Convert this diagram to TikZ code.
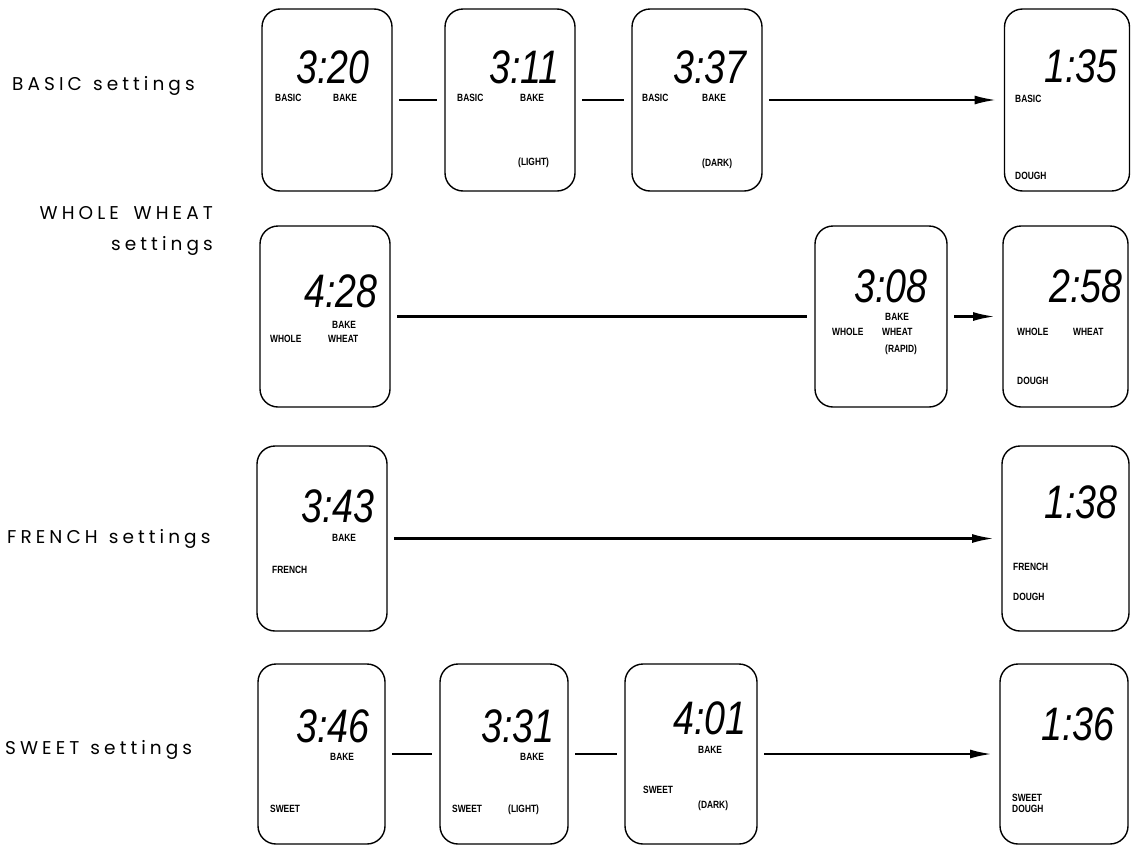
\documentclass[tikz,border=0pt]{standalone}
\usepackage{fontspec}
\usetikzlibrary{arrows.meta}
\newfontfamily\labfont[LetterSpace=22]{Poppins}
\newfontfamily\lcdfont[FakeStretch=0.8]{Liberation Sans}
\newfontfamily\digfont[FakeStretch=0.8]{Liberation Sans}
\tikzset{
  lcd/.style={draw, line width=1.4pt, rounded corners=18pt, inner sep=0pt, outer sep=0pt},
  seg/.style={font=\digfont\itshape\fontsize{47}{47}\selectfont, inner sep=0pt, text depth=0pt, anchor=base east},
  tag/.style={font=\lcdfont\bfseries\fontsize{10.5}{11}\selectfont, inner sep=0pt, text height=7.5pt, text depth=0pt, anchor=base west},
  side/.style={font=\labfont\fontsize{18.5}{21}\selectfont, inner sep=0pt},
  link/.style={line width=2.4pt, shorten <=7pt, shorten >=8pt},
  go/.style={link, -{Latex[length=22pt,width=9pt]}}
}
\begin{document}
\begin{tikzpicture}[x=1pt,y=-1pt]
\useasboundingbox (0,0) rectangle (1131,846);
% side labels
\node[side, anchor=base west] (l1) at (12,90) {BASIC\hspace{0.6em}settings};
\node[side, anchor=base east] (l2a) at (213,219) {WHOLE\hspace{0.8em}WHEAT};
\node[side, anchor=base east] (l2b) at (213,250) {settings};
\node[side, anchor=base west] (l3) at (7,543) {FRENCH\hspace{0.6em}settings};
\node[side, anchor=base west] (l4) at (5,754) {SWEET\hspace{0.6em}settings};
% row 1
\node[lcd, minimum width=130pt, minimum height=182pt] (b11) at (327,100) {};
\node[lcd, minimum width=130pt, minimum height=182pt] (b12) at (510,100) {};
\node[lcd, minimum width=130pt, minimum height=182pt] (b13) at (697,100) {};
\node[lcd, minimum width=125pt, minimum height=182pt] (b14) at (1067,100) {};
\node[seg] (d11) at (370,83) {3:20};
\node[tag] (t11a) at (275,101) {BASIC};
\node[tag] (t11b) at (333,101) {BAKE};
\node[seg] (d12) at (560,83) {3:11};
\node[tag] (t12a) at (457,101) {BASIC};
\node[tag] (t12b) at (520,101) {BAKE};
\node[tag] (t12c) at (518,165) {(LIGHT)};
\node[seg] (d13) at (747,83) {3:37};
\node[tag] (t13a) at (642,101) {BASIC};
\node[tag] (t13b) at (702,101) {BAKE};
\node[tag] (t13c) at (702,166) {(DARK)};
\node[seg] (d14) at (1118,82) {1:35};
\node[tag] (t14a) at (1015,102) {BASIC};
\node[tag] (t14b) at (1015,179) {DOUGH};
\draw[link] (b11.east) -- (b12.west);
\draw[link] (b12.east) -- (b13.west);
\draw[go] (b13.east) -- (b14.west);
% row 2
\node[lcd, minimum width=130pt, minimum height=181pt] (b21) at (325,316.5) {};
\node[lcd, minimum width=132pt, minimum height=181pt] (b22) at (881,316.5) {};
\node[lcd, minimum width=125pt, minimum height=181pt] (b23) at (1065.5,316.5) {};
\node[seg] (d21) at (378,307) {4:28};
\node[tag] (t21a) at (332,328) {BAKE};
\node[tag] (t21b) at (270,342) {WHOLE};
\node[tag] (t21c) at (328,342) {WHEAT};
\node[seg] (d22) at (928,302) {3:08};
\node[tag] (t22a) at (885,320) {BAKE};
\node[tag] (t22b) at (832,335) {WHOLE};
\node[tag] (t22c) at (882,335) {WHEAT};
\node[tag] (t22d) at (885,352) {(RAPID)};
\node[seg] (d23) at (1123,302) {2:58};
\node[tag] (t23a) at (1017,335) {WHOLE};
\node[tag] (t23b) at (1073,335) {WHEAT};
\node[tag] (t23c) at (1017,384) {DOUGH};
\draw[link] (b21.east) -- (b22.west);
\draw[go] (b22.east) -- (b23.west);
% row 3
\node[lcd, minimum width=130pt, minimum height=185pt] (b31) at (322,538.5) {};
\node[lcd, minimum width=127pt, minimum height=185pt] (b32) at (1065.5,538.5) {};
\node[seg] (d31) at (375,522) {3:43};
\node[tag] (t31a) at (332,541) {BAKE};
\node[tag] (t31b) at (272,573) {FRENCH};
\node[seg] (d32) at (1118,518) {1:38};
\node[tag] (t32a) at (1013,570) {FRENCH};
\node[tag] (t32b) at (1013,600) {DOUGH};
\draw[go] (b31.east) -- (b32.west);
% row 4
\node[lcd, minimum width=127pt, minimum height=180pt] (b41) at (321.5,754) {};
\node[lcd, minimum width=128pt, minimum height=180pt] (b42) at (504,754) {};
\node[lcd, minimum width=132pt, minimum height=180pt] (b43) at (691,754) {};
\node[lcd, minimum width=128pt, minimum height=180pt] (b44) at (1064,754) {};
\node[seg] (d41) at (370,742) {3:46};
\node[tag] (t41a) at (330,760) {BAKE};
\node[tag] (t41b) at (270,812) {SWEET};
\node[seg] (d42) at (555,742) {3:31};
\node[tag] (t42a) at (520,760) {BAKE};
\node[tag] (t42b) at (452,812) {SWEET};
\node[tag] (t42c) at (508,812) {(LIGHT)};
\node[seg] (d43) at (747,734) {4:01};
\node[tag] (t43a) at (698,753) {BAKE};
\node[tag] (t43b) at (643,793) {SWEET};
\node[tag] (t43c) at (698,808) {(DARK)};
\node[seg] (d44) at (1115,740) {1:36};
\node[tag] (t44a) at (1012,801) {SWEET};
\node[tag] (t44b) at (1012,812) {DOUGH};
\draw[link] (b41.east) -- (b42.west);
\draw[link] (b42.east) -- (b43.west);
\draw[go] (b43.east) -- (b44.west);
\end{tikzpicture}
\end{document}
